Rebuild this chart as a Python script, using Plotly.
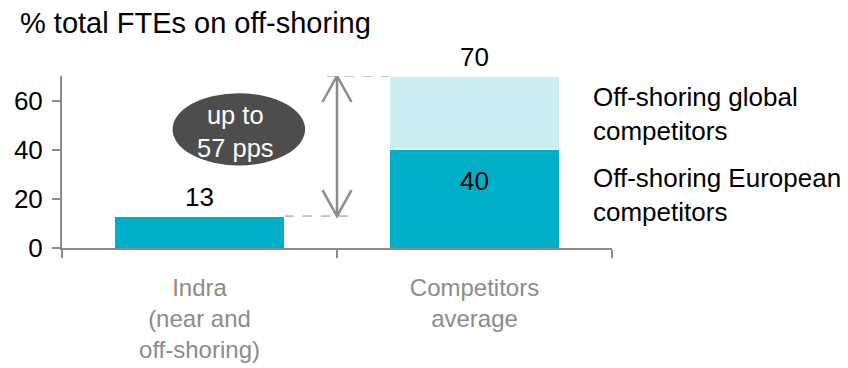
import plotly.graph_objects as go

# ---------------- data ----------------
categories = ["Indra<br>(near and<br>off-shoring)", "Competitors<br>average"]
european_values = [13, 40]      # off-shoring (Indra / European competitors)
global_values = [0, 30]         # extra off-shoring of global competitors
total_values = [13, 70]
y_ticks = [0, 20, 40, 60]
title_text = "% total FTEs on off-shoring"
legend_global = "Off-shoring global<br>competitors"
legend_european = "Off-shoring European<br>competitors"

# ---------------- style ----------------
W, H = 848, 368
L, R, T, B = 62, 236, 76, 120
PW, PH = W - L - R, H - T - B
FONT = "Liberation Sans, Arial, sans-serif"
DARK = "#00AEC7"
LIGHT = "#CCEEF3"
GREY = "#8C8C8C"
ELLIPSE = "#4D4D4D"

def px_x(px):
    return (px - L) / PW

def px_y(py):
    return (H - B - py) / PH

fig = go.Figure()
fig.add_trace(go.Bar(x=categories, y=european_values, marker=dict(color=DARK, line=dict(color="white", width=1)),
                     hoverinfo="skip", showlegend=False))
fig.add_trace(go.Bar(x=categories, y=global_values, marker=dict(color=LIGHT, line=dict(color="white", width=1)),
                     hoverinfo="skip", showlegend=False))

half = 0.31
annotations = []
# total labels above bars
for i, v in enumerate(total_values):
    annotations.append(dict(x=i, y=v, xref="x", yref="y", text=str(v), showarrow=False,
                            yanchor="middle", yshift=19, font=dict(size=26, color="black")))
# inner label for the European segment
annotations.append(dict(x=1, y=european_values[1], xref="x", yref="y", text=str(european_values[1]),
                        showarrow=False, yanchor="middle", yshift=-31, font=dict(size=26, color="black")))
# gap bubble text
gap = total_values[1] - total_values[0]
annotations.append(dict(x=0.132, y=47.3, xref="x", yref="y", text=f"up to<br>{gap} pps", showarrow=False,
                        yanchor="middle", font=dict(size=25.5, color="white")))
# title
annotations.append(dict(x=px_x(18), y=px_y(23), xref="paper", yref="paper", text=title_text, showarrow=False,
                        xanchor="left", yanchor="middle", font=dict(size=29, color="black")))
# legend-like texts
for txt, cy in zip([legend_global, legend_european], [114, 195]):
    annotations.append(dict(x=px_x(591), y=px_y(cy), xref="paper", yref="paper", text=txt, showarrow=False,
                            xanchor="left", yanchor="middle", align="left",
                            font=dict(size=26, color="black")))

shapes = [
    # bubble
    dict(type="circle", xref="x", yref="y", x0=-0.098, x1=0.384, y0=33.6, y1=63.0,
         fillcolor=ELLIPSE, line=dict(width=0), layer="above"),
    # dashed guides
    dict(type="line", xref="x", yref="y", x0=0.4636, x1=1 - half, y0=total_values[1], y1=total_values[1],
         line=dict(color=GREY, width=1, dash="dash")),
    dict(type="line", xref="x", yref="y", x0=half, x1=0.54, y0=total_values[0], y1=total_values[0],
         line=dict(color=GREY, width=1, dash="dash")),
    # arrow shaft
    dict(type="line", xref="x", yref="y", x0=0.5, x1=0.5, y0=total_values[0], y1=total_values[1],
         line=dict(color=GREY, width=2.5)),
    # arrow heads
    dict(type="path", xref="x", yref="y", xsizemode="pixel", ysizemode="pixel",
         xanchor=0.5, yanchor=total_values[1], path="M -14.5,-26 L 0,0 L 14.5,-26",
         line=dict(color=GREY, width=2.5)),
    dict(type="path", xref="x", yref="y", xsizemode="pixel", ysizemode="pixel",
         xanchor=0.5, yanchor=total_values[0], path="M -14.5,26 L 0,0 L 14.5,26",
         line=dict(color=GREY, width=2.5)),
]

fig.update_layout(
    width=W, height=H, barmode="stack", bargap=0.38,
    margin=dict(l=L, r=R, t=T, b=B, pad=0, autoexpand=False),
    paper_bgcolor="white", plot_bgcolor="white",
    font=dict(family=FONT, color="black"),
    annotations=annotations, shapes=shapes,
    xaxis=dict(type="category", tickson="boundaries", ticks="outside", ticklen=8, tickwidth=2,
               tickcolor=GREY, showline=True, linecolor=GREY, linewidth=2, showgrid=False,
               tickfont=dict(size=24, color=GREY), ticklabelstandoff=17, automargin=False,
               fixedrange=True),
    yaxis=dict(range=[0, 70], tickvals=y_ticks, ticks="outside", ticklen=8, tickwidth=2, tickcolor=GREY,
               showline=True, linecolor=GREY, linewidth=2, showgrid=False, zeroline=False,
               tickfont=dict(size=26, color="black"), ticklabelstandoff=4, automargin=False,
               fixedrange=True),
)

fig.write_html("out.html", config={"displayModeBar": False})
